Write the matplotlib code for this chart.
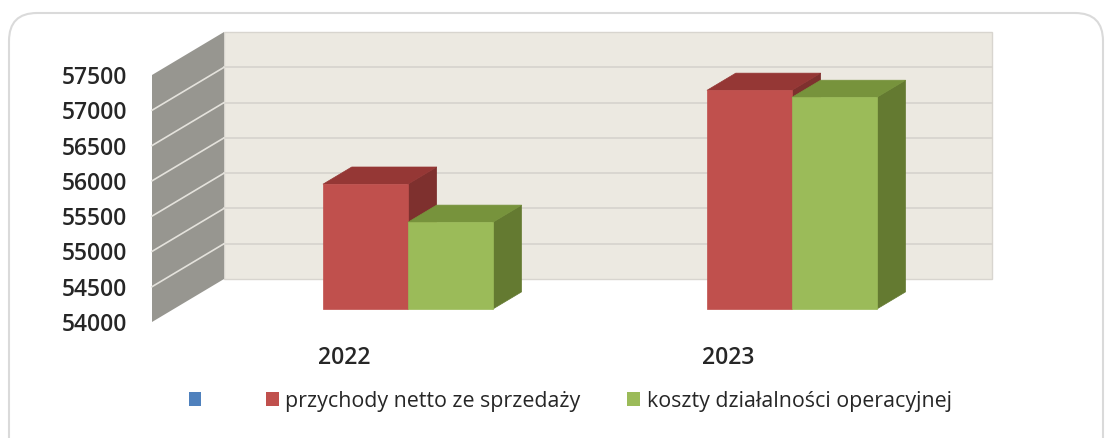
import numpy as np
import matplotlib.pyplot as plt
from matplotlib.patches import Polygon, Patch, FancyBboxPatch

# data
years = ["2022", "2023"]
series_names = ["", "przychody netto ze sprzedaży", "koszty działalności operacyjnej"]
przychody = [55770, 57100]
koszty = [55230, 57000]
y_ticks = [54000, 54500, 55000, 55500, 56000, 56500, 57000, 57500]

legend_colors = ["#4F81BD", "#C0504D", "#9BBB59"]
face_cols = {"red": ("#C0504D", "#953735", "#7E302E"),
             "green": ("#9BBB59", "#77933C", "#647A31")}

plt.rcParams['font.family'] = ['Open Sans', 'DejaVu Sans']

W, H = 1107, 438
fig = plt.figure(figsize=(W / 100, H / 100), dpi=100)

# background layer with rounded frame
bg = fig.add_axes([0, 0, 1, 1])
bg.set_xlim(0, W)
bg.set_ylim(H, 0)
bg.axis("off")
bg.add_patch(FancyBboxPatch((9, 13), 1094, 460, boxstyle="round,pad=0,rounding_size=28",
                            facecolor="white", edgecolor="#DADADA", lw=1.5))

# main axes = front plane of the 3d box
ax = fig.add_axes([152 / W, 1 - 322 / H, 768 / W, 247 / H])
ymin, ymax = y_ticks[0], y_ticks[-1]
ax.set_xlim(0, 2)
ax.set_ylim(ymin, ymax)
for s in ax.spines.values():
    s.set_visible(False)
ax.patch.set_alpha(0)

# depth of the box (oblique projection)
DX = 0.1875
DY = 609

# back wall
ax.add_patch(Polygon([(DX, ymin + DY), (2 + DX, ymin + DY), (2 + DX, ymax + DY), (DX, ymax + DY)],
                     closed=True, facecolor="#ECE9E1", edgecolor="#D8D5CF", lw=1, clip_on=False, zorder=1))
# side wall
ax.add_patch(Polygon([(0, ymin), (DX, ymin + DY), (DX, ymax + DY), (0, ymax)],
                     closed=True, facecolor="#979690", edgecolor="none", clip_on=False, zorder=1))
for v in y_ticks[1:-1]:
    ax.plot([DX, 2 + DX], [v + DY, v + DY], color="#D6D3CD", lw=1.2, clip_on=False, zorder=2)
    ax.plot([0, DX], [v, v + DY], color="#E4E2DC", lw=1.2, clip_on=False, zorder=2)

# bars
bar_w = 0.221
bar_x0 = 0.389   # left edge at depth 0, relative to category start
d0, d1 = 0.3, 0.7


def draw_bar(xl, val, cols):
    f, t, s = cols
    xr = xl + bar_w
    ax0, ay0 = d0 * DX, d0 * DY
    ax1, ay1 = d1 * DX, d1 * DY
    front = [(xl + ax0, ymin + ay0), (xr + ax0, ymin + ay0), (xr + ax0, val + ay0), (xl + ax0, val + ay0)]
    top = [(xl + ax0, val + ay0), (xr + ax0, val + ay0), (xr + ax1, val + ay1), (xl + ax1, val + ay1)]
    side = [(xr + ax0, ymin + ay0), (xr + ax1, ymin + ay1), (xr + ax1, val + ay1), (xr + ax0, val + ay0)]
    for pts, c in ((side, s), (top, t), (front, f)):
        ax.add_patch(Polygon(pts, closed=True, facecolor=c, edgecolor=c, lw=0.5, clip_on=False, zorder=3))


for i in range(len(years)):
    draw_bar(i + bar_x0, przychody[i], face_cols["red"])
    draw_bar(i + bar_x0 + bar_w, koszty[i], face_cols["green"])

ax.set_yticks(y_ticks)
ax.set_yticklabels([str(v) for v in y_ticks], fontsize=16.5, fontweight="semibold", color="#262626")
ax.set_xticks([0.5, 1.5])
ax.set_xticklabels(years, fontsize=16.5, fontweight="semibold", color="#262626")
ax.tick_params(axis="y", length=0, pad=18)
ax.tick_params(axis="x", length=0, pad=17)

handles = [Patch(facecolor=c, edgecolor="none") for c in legend_colors]
labels = ["  "] + series_names[1:]
fig.legend(handles, labels, loc="center", bbox_to_anchor=(0.515, 1 - 401 / H), ncol=3, frameon=False,
           fontsize=15.4, handlelength=0.6, handleheight=0.6, handletextpad=0.3, columnspacing=2.2,
           labelcolor="#262626")

fig.savefig("out.png", dpi=100)
